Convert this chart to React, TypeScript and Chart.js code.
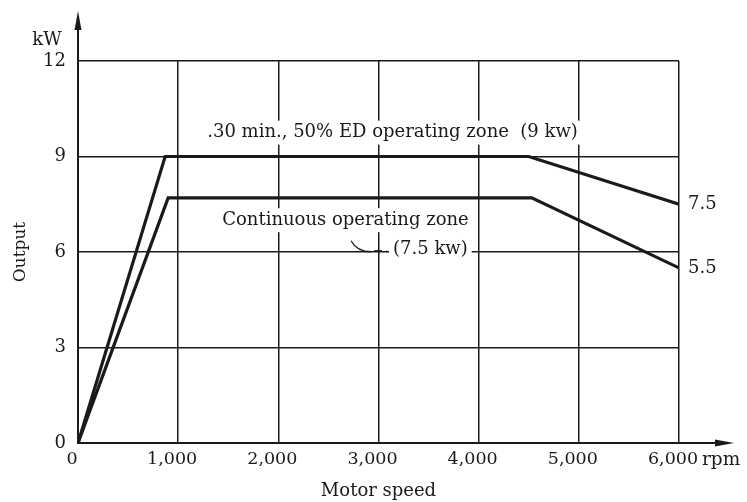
import React, { useEffect, useRef } from "react";
import { Chart, registerables } from "chart.js";

Chart.register(...registerables);

// Data
const speedPeak = [0, 870, 4500, 6000];
const outputPeak = [0, 9, 9, 7.5];
const speedCont = [0, 900, 4530, 6000];
const outputCont = [0, 7.7, 7.7, 5.5];
const endLabels = ["7.5", "5.5"];
const xTickValues = [0, 1000, 2000, 3000, 4000, 5000, 6000];
const yTickValues = [0, 3, 6, 9, 12];
const peakText = ".30 min., 50% ED operating zone  (9 kw)";
const contText = "Continuous operating zone";
const contValueText = "(7.5 kw)";
const xUnit = "rpm";
const yUnit = "kW";
const xTitle = "Motor speed";
const yTitle = "Output";

const FONT = "'DejaVu Serif', serif";

const decorPlugin = {
  id: "decor",
  beforeDatasetsDraw(chart: any) {
    const ctx = chart.ctx;
    const xs = chart.scales.x;
    const ys = chart.scales.y;
    ctx.save();
    ctx.font = `18px ${FONT}`;
    ctx.textBaseline = "middle";
    ctx.textAlign = "left";
    const boxed = (t: string, px: number, py: number) => {
      const w = ctx.measureText(t).width;
      ctx.fillStyle = "#ffffff";
      ctx.fillRect(px - 4, py - 12, w + 8, 24);
      ctx.fillStyle = "#1a1a1a";
      ctx.fillText(t, px, py);
    };
    boxed(peakText, xs.getPixelForValue(1290), ys.getPixelForValue(9.75));
    boxed(contText, xs.getPixelForValue(1440), ys.getPixelForValue(7.0));
    const vx = xs.getPixelForValue(3145);
    const vy = ys.getPixelForValue(6.07);
    boxed(contValueText, vx, vy);
    // leader stroke
    ctx.strokeStyle = "#1a1a1a";
    ctx.lineWidth = 1.3;
    ctx.beginPath();
    ctx.moveTo(vx - 42, vy - 9);
    ctx.quadraticCurveTo(vx - 36, vy + 2, vx - 22, vy + 2);
    ctx.stroke();
    ctx.beginPath();
    ctx.moveTo(vx - 19, vy + 1);
    ctx.lineTo(vx - 11, vy + 1);
    ctx.stroke();
    ctx.fillStyle = "#1a1a1a";
    ctx.fillRect(vx - 7, vy + 1, 1.5, 1.5);
    ctx.restore();
  },
  afterDraw(chart: any) {
    const ctx = chart.ctx;
    const { left, bottom, top, right } = chart.chartArea;
    ctx.save();
    ctx.fillStyle = "#1a1a1a";
    ctx.strokeStyle = "#1a1a1a";
    ctx.lineWidth = 2;
    // y axis arrow
    ctx.beginPath();
    ctx.moveTo(left, top);
    ctx.lineTo(left, 22);
    ctx.stroke();
    ctx.beginPath();
    ctx.moveTo(left, 11);
    ctx.lineTo(left - 3.5, 30);
    ctx.lineTo(left + 3.5, 30);
    ctx.closePath();
    ctx.fill();
    // x axis arrow
    ctx.beginPath();
    ctx.moveTo(right, bottom);
    ctx.lineTo(722, bottom);
    ctx.stroke();
    ctx.beginPath();
    ctx.moveTo(734, bottom);
    ctx.lineTo(715, bottom - 3.5);
    ctx.lineTo(715, bottom + 3.5);
    ctx.closePath();
    ctx.fill();
    // units
    ctx.font = `18px ${FONT}`;
    ctx.textBaseline = "middle";
    ctx.textAlign = "center";
    ctx.fillText(yUnit, left - 31, top - 21);
    ctx.textAlign = "left";
    ctx.font = `18.5px ${FONT}`;
    ctx.fillText(xUnit, right + 23, bottom + 17);
    ctx.font = `18px ${FONT}`;
    // end labels
    const metas = [chart.getDatasetMeta(0), chart.getDatasetMeta(1)];
    metas.forEach((m: any, i: number) => {
      const last = m.data[m.data.length - 1];
      ctx.fillText(endLabels[i], last.x + 9, last.y);
    });
    ctx.restore();
  },
};

export default function App() {
  const ref = useRef<HTMLCanvasElement>(null);
  useEffect(() => {
    if (!ref.current) return;
    const chart = new Chart(ref.current, {
      type: "line",
      data: {
        datasets: [
          {
            data: speedPeak.map((x, i) => ({ x, y: outputPeak[i] })),
            borderColor: "#1a1a1a",
            borderWidth: 3.2,
            pointRadius: 0,
            tension: 0,
            fill: false,
          },
          {
            data: speedCont.map((x, i) => ({ x, y: outputCont[i] })),
            borderColor: "#1a1a1a",
            borderWidth: 3.2,
            pointRadius: 0,
            tension: 0,
            fill: false,
          },
        ],
      },
      options: {
        responsive: false,
        animation: false,
        layout: { padding: { left: 0, right: 68, top: 61, bottom: 0 } },
        plugins: { legend: { display: false }, tooltip: { enabled: false } },
        scales: {
          x: {
            type: "linear",
            min: 0,
            max: 6000,
            afterFit: (s: any) => {
              s.height = 59;
            },
            afterBuildTicks: (s: any) => {
              s.ticks = xTickValues.map((v) => ({ value: v }));
            },
            grid: { color: "#1a1a1a", lineWidth: 1.5, drawTicks: false },
            border: { display: true, color: "#1a1a1a", width: 2 },
            ticks: {
              color: "#1a1a1a",
              font: { family: FONT, size: 17.5 },
              padding: 6,
              labelOffset: -6,
              maxRotation: 0,
              callback: (v: any) => Number(v).toLocaleString("en-US"),
            },
            title: {
              display: true,
              text: xTitle,
              color: "#1a1a1a",
              font: { family: FONT, size: 18 },
              padding: { top: 4, bottom: 0 },
            },
          },
          y: {
            type: "linear",
            min: 0,
            max: 12,
            afterFit: (s: any) => {
              s.width = 78;
            },
            afterBuildTicks: (s: any) => {
              s.ticks = yTickValues.map((v) => ({ value: v }));
            },
            grid: { color: "#1a1a1a", lineWidth: 1.5, drawTicks: false },
            border: { display: true, color: "#1a1a1a", width: 2 },
            ticks: {
              color: "#1a1a1a",
              font: { family: FONT, size: 18 },
              padding: 12,
            },
            title: {
              display: true,
              text: yTitle,
              color: "#1a1a1a",
              font: { family: FONT, size: 17 },
              padding: { top: 10, bottom: 0 },
            },
          },
        },
      },
      plugins: [decorPlugin],
    });
    return () => chart.destroy();
  }, []);
  return (
    <div style={{ position: "fixed", left: 0, top: 0, width: 747, height: 502, background: "#ffffff" }}>
      <canvas ref={ref} width={747} height={502} style={{ display: "block" }} />
    </div>
  );
}
